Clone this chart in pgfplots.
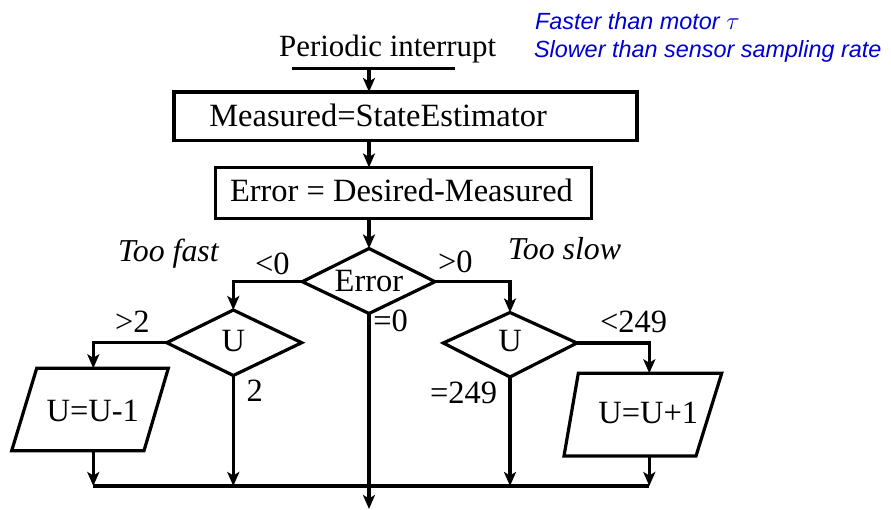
\documentclass[border=0pt]{standalone}
\usepackage{pgfplots}
\pgfplotsset{compat=1.18}
\usepackage{fontspec}
\setmainfont{Liberation Serif}
\setsansfont{Liberation Sans}
\usetikzlibrary{arrows.meta}
\definecolor{noteblue}{RGB}{0,0,210}
\tikzset{
  fl/.style={draw=black, solid, line width=3.2bp, line join=miter, mark=none},
  arr/.style={fl, -{Stealth[length=14bp,width=12bp,inset=3.5bp]}},
  big/.style={inner sep=0pt, outer sep=0pt, font=\fontsize{32.6}{39}\selectfont},
  bigit/.style={inner sep=0pt, outer sep=0pt, font=\fontsize{32}{38}\selectfont\itshape},
  note/.style={inner sep=0pt, outer sep=0pt, text=noteblue, font=\sffamily\itshape\fontsize{23.5}{28}\selectfont},
}
\begin{document}
\begin{tikzpicture}
\begin{axis}[
  scale only axis, width=891bp, height=510bp,
  xmin=0, xmax=891, ymin=0, ymax=510, y dir=reverse,
  hide axis, clip=false,
]
% top line and arrows
\addplot[fl] coordinates {(291.7,68.3) (455,68.3)};
\addplot[arr] coordinates {(369,68.3) (369,92)};
% box 1
\addplot[fl] coordinates {(174,92) (637,92) (637,140.5) (174,140.5)} -- cycle;
\addplot[arr] coordinates {(369,140.5) (369,167.5)};
% box 2
\addplot[fl] coordinates {(215.5,167.5) (591.5,167.5) (591.5,218.5) (215.5,218.5)} -- cycle;
\addplot[arr] coordinates {(369,218.5) (369,248.5)};
% Error diamond
\addplot[fl] coordinates {(369,248.5) (435,281.7) (369,313.5) (302.3,281.7)} -- cycle;
% left branch
\addplot[arr] coordinates {(302.3,281.7) (233.3,281.7) (233.3,310)};
\addplot[fl] coordinates {(233.3,310) (301.7,342.7) (233.3,375.5) (166.7,342.7)} -- cycle;
\addplot[arr] coordinates {(166.7,342.7) (93.3,342.7) (93.3,368.3)};
\addplot[fl] coordinates {(36.7,368.3) (168.3,368.3) (144,450.7) (11.7,450.7)} -- cycle;
\addplot[arr] coordinates {(93.3,450.7) (93.3,486)};
\addplot[arr] coordinates {(233.3,375.5) (233.3,486)};
% center
\addplot[arr] coordinates {(369,313.5) (369,509)};
% bottom line
\addplot[fl] coordinates {(93.3,486) (649.3,486)};
% right branch
\addplot[arr] coordinates {(435,281.7) (510,281.7) (510,312.5)};
\addplot[fl] coordinates {(510,312.5) (577,343) (510,377) (443.3,343)} -- cycle;
\addplot[arr] coordinates {(577,343) (649.3,343) (649.3,373.3)};
\addplot[fl] coordinates {(578.3,373.3) (721.7,373.3) (696,456) (564,456)} -- cycle;
\addplot[arr] coordinates {(649.3,456) (649.3,486)};
\addplot[arr] coordinates {(510,377) (510,486)};
% texts
\node[inner sep=0pt, font=\fontsize{31}{37}\selectfont, anchor=base west] at (axis cs:279,56.7) {Periodic interrupt};
\node[big, anchor=base west] at (axis cs:209.3,126.7) {Measured=StateEstimator};
\node[big, anchor=base west] at (axis cs:230,201.7) {Error = Desired-Measured};
\node[big, anchor=base] at (axis cs:369,291.7) {Error};
\node[bigit, anchor=base west] at (axis cs:118,261.7) {Too fast};
\node[bigit, anchor=base west] at (axis cs:508,260) {Too slow};
\node[big, anchor=base west] at (axis cs:255,275) {<0};
\node[big, anchor=base west] at (axis cs:438,273) {>0};
\node[big, anchor=base] at (axis cs:233.3,351.7) {U};
\node[big, anchor=base] at (axis cs:510,352) {U};
\node[big, anchor=base west] at (axis cs:115,333) {>2};
\node[big, anchor=base west] at (axis cs:246.7,401.7) {2};
\node[big, anchor=base west] at (axis cs:373.3,331.7) {=0};
\node[big, anchor=base west] at (axis cs:46.7,421.7) {U=U-1};
\node[big, anchor=base west] at (axis cs:600,333) {<249};
\node[big, anchor=base west] at (axis cs:430,403.3) {=249};
\node[big, anchor=base west] at (axis cs:598.3,423.3) {U=U+1};
\node[note, anchor=base west] at (axis cs:535,30) {Faster than motor $\tau$};
\node[note, anchor=base west] at (axis cs:534,57.7) {Slower than sensor sampling rate};
\end{axis}
\pgfresetboundingbox
\useasboundingbox (current axis.south west) rectangle (current axis.north east);
\end{tikzpicture}
\end{document}
